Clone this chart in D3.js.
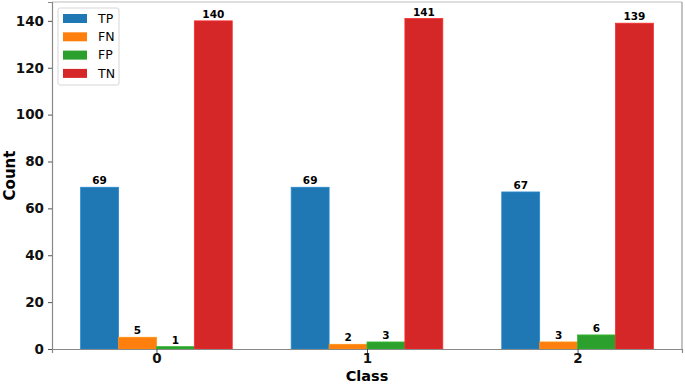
<!DOCTYPE html>
<html>
<head>
<meta charset="utf-8">
<script src="https://cdn.jsdelivr.net/npm/d3@7"></script>
<style>
  body { margin: 0; background: #fff; }
  text { font-family: "DejaVu Sans", sans-serif; }
</style>
</head>
<body>
<div id="chartArea"></div>
<script>
// values
var classes = ['0', '1', '2'];
var seriesNames = ['TP', 'FN', 'FP', 'TN'];
var TP = [69, 69, 67];
var FN = [5, 2, 3];
var FP = [1, 3, 6];
var TN = [140, 141, 139];
var yTicks = [0, 20, 40, 60, 80, 100, 120, 140];
var colors = ['#1f77b4', '#ff7f0e', '#2ca02c', '#d62728'];

var series = [TP, FN, FP, TN];
var width = 685, height = 384;
var margin = {top: 2, right: 3, bottom: 35, left: 52};
var barW = 0.18;

var svg = d3.select('#chartArea').append('svg')
    .attr('width', width)
    .attr('height', height);

// matplotlib style limits: 5% padding around the bars
var xscale = d3.scaleLinear()
    .domain([-0.496, classes.length - 1 + 0.496])
    .range([margin.left, width - margin.right]);
var yscale = d3.scaleLinear()
    .domain([0, 141 * 1.05])
    .range([height - margin.bottom, margin.top]);

var bars = svg.append('g');
series.forEach(function (vals, s) {
    var off = (s - 1.5) * barW;
    bars.selectAll(null).data(vals).enter().append('rect')
        .attr('x', function (d, i) { return xscale(i + off - barW / 2); })
        .attr('y', function (d) { return yscale(d); })
        .attr('width', xscale(barW) - xscale(0))
        .attr('height', function (d) { return yscale(0) - yscale(d); })
        .attr('fill', colors[s])
        .attr('stroke', d3.color(colors[s]).brighter(0.4))
        .attr('stroke-width', 0.8);
    bars.selectAll(null).data(vals).enter().append('text')
        .attr('x', function (d, i) { return xscale(i + off); })
        .attr('y', function (d) { return yscale(d) - 3; })
        .attr('text-anchor', 'middle')
        .style('font-size', '10.5px')
        .style('font-weight', 'bold')
        .text(function (d) { return d; });
});

// frame
var x0 = xscale.range()[0], x1 = xscale.range()[1];
var y0 = yscale.range()[0], y1 = yscale.range()[1];
svg.append('line').attr('x1', x0).attr('x2', x1).attr('y1', y1).attr('y2', y1)
    .attr('stroke', '#bdbdbd').attr('stroke-width', 1.2);
svg.append('line').attr('x1', x1).attr('x2', x1).attr('y1', y1).attr('y2', y0)
    .attr('stroke', '#9a9a9a').attr('stroke-width', 1.2);

var yAxis = svg.append('g')
    .attr('transform', 'translate(' + x0 + ',0)')
    .call(d3.axisLeft(yscale).tickValues(yTicks).tickSize(4).tickPadding(4));
var xAxis = svg.append('g')
    .attr('transform', 'translate(0,' + y0 + ')')
    .call(d3.axisBottom(xscale).tickValues([0, 1, 2])
        .tickFormat(function (d) { return classes[d]; }).tickSize(4).tickPadding(0));
[yAxis, xAxis].forEach(function (ax) {
    ax.select('.domain').attr('stroke', '#888').attr('stroke-width', 1.2);
    ax.selectAll('.tick line').attr('stroke', '#555');
    ax.selectAll('.tick text')
        .style('font-family', '"DejaVu Sans", sans-serif')
        .style('font-size', '13.5px')
        .style('font-weight', 'bold')
        .attr('fill', '#111');
});

svg.append('text')
    .attr('x', (x0 + x1) / 2)
    .attr('y', 381)
    .attr('text-anchor', 'middle')
    .style('font-size', '14.5px')
    .style('font-weight', 'bold')
    .text('Class');
svg.append('text')
    .attr('transform', 'translate(9.5,' + ((y0 + y1) / 2) + ') rotate(-90)')
    .attr('text-anchor', 'middle')
    .attr('dy', '0.35em')
    .style('font-size', '15px')
    .style('font-weight', 'bold')
    .text('Count');

// legend
var leg = svg.append('g').attr('transform', 'translate(58,8)');
leg.append('rect')
    .attr('width', 61).attr('height', 77).attr('rx', 2)
    .attr('fill', '#fff').attr('fill-opacity', 0.8)
    .attr('stroke', '#d6d6d6');
seriesNames.forEach(function (name, s) {
    var row = leg.append('g').attr('transform', 'translate(5,' + (6 + s * 18.3) + ')');
    row.append('rect').attr('width', 24).attr('height', 9).attr('fill', colors[s]);
    row.append('text').attr('x', 35).attr('y', 4.5).attr('dy', '0.35em')
        .style('font-size', '12.5px').text(name);
});
</script>
</body>
</html>
